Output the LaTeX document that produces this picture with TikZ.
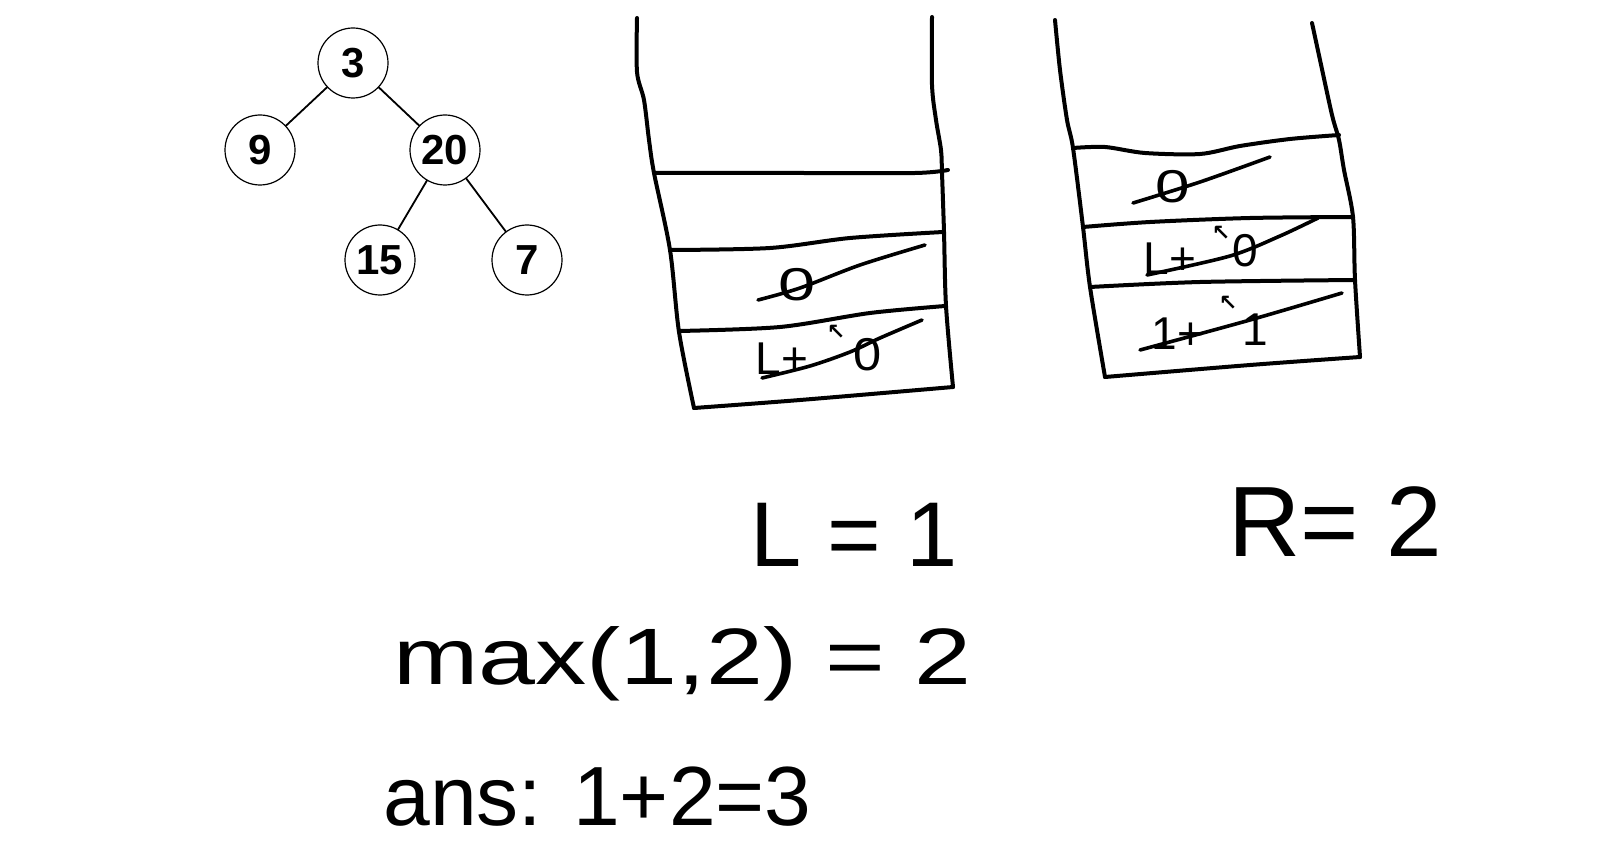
\documentclass[tikz,border=0pt]{standalone}
\usepackage{fontspec}
\setmainfont{Liberation Sans}
\newfontfamily\dejavu{DejaVu Sans}
\begin{document}
\begin{tikzpicture}[x=0.5pt,y=-0.5pt,line cap=round,line join=round]
\useasboundingbox[fill=white] (0,0) rectangle (1600,845);
\tikzset{
  tn/.style={circle,draw,line width=0.6pt,minimum size=35pt,inner sep=0pt,font=\bfseries\fontsize{21}{22}\selectfont},
  treeedge/.style={line width=0.9pt},
  wall/.style={line width=2pt},
  cell/.style={inner sep=0pt,font=\fontsize{23}{24}\selectfont},
  arr/.style={inner sep=0pt,font=\dejavu\bfseries\fontsize{11}{11}\selectfont},
  strike/.style={line width=1.8pt},
  big/.style={inner sep=0pt,anchor=base west,font=\fontsize{46}{48}\selectfont}
}
% tree
\node[tn] (n3) at (353,63) {3};
\node[tn] (n9) at (260,150) {9};
\node[tn] (n20) at (445,150) {20};
\node[tn] (n15) at (380,260) {15};
\node[tn] (n7) at (527,260) {7};
\draw[treeedge] (n3) -- (n9);
\draw[treeedge] (n3) -- (n20);
\draw[treeedge] (n20) -- (n15);
\draw[treeedge] (n20) -- (n7);
% left stack
\draw[wall] plot[smooth] coordinates {(637,18) (637,72) (644,100) (649,140) (654,173) (670,250) (679,332) (694,408)};
\draw[wall] plot[smooth] coordinates {(932,17) (932,85) (936,120) (941,150) (942,173) (944,232) (946,306) (953,387)};
\draw[wall] plot[smooth] coordinates {(654,173) (800,173) (915,173) (948,170)};
\draw[wall] plot[smooth] coordinates {(670,250) (770,248) (850,238) (943,232)};
\draw[wall] plot[smooth] coordinates {(679,331) (780,327) (870,313) (945,306)};
\draw[wall] plot[smooth] coordinates {(694,408) (800,400) (953,387)};
\node[cell] (la) at (797,285) {\scalebox{1.45}[1]{0}};
\draw[strike] plot[smooth] coordinates {(758,300) (800,288) (860,265) (925,245)};
\node[cell] (lb) at (782,359) {L+};
\node[cell] (lc) at (868,355) {\scalebox{1.1}[1]{0}};
\node[arr] (ld) at (836,332) {↖};
\draw[strike] plot[smooth] coordinates {(762,378) (810,366) (850,352) (880,338) (922,320)};
% right stack
\draw[wall] plot[smooth] coordinates {(1055,20) (1060,70) (1067,120) (1073,148) (1083,227) (1090,287) (1105,377)};
\draw[wall] plot[smooth] coordinates {(1312,23) (1320,60) (1332,115) (1339,140) (1344,170) (1353,217) (1355,280) (1360,357)};
\draw[wall] plot[smooth] coordinates {(1073,148) (1105,147) (1145,153) (1200,154) (1240,146) (1290,139) (1339,135)};
\draw[wall] plot[smooth] coordinates {(1083,227) (1150,222) (1250,218) (1353,217)};
\draw[wall] plot[smooth] coordinates {(1090,287) (1200,282) (1355,280)};
\draw[wall] plot[smooth] coordinates {(1105,377) (1250,365) (1360,357)};
\node[cell] (ra) at (1173,187) {\scalebox{1.35}[1]{0}};
\draw[strike] plot[smooth] coordinates {(1133,203) (1200,182) (1270,157)};
\node[cell] (rb) at (1170,259) {L+};
\node[cell] (rc) at (1245,251) {0};
\node[arr] (rd) at (1221,233) {↖};
\draw[strike] plot[smooth] coordinates {(1147,275) (1230,256) (1280,236) (1318,218)};
\node[cell] (re) at (1178,334) {1+};
\node[cell] (rf) at (1255,330) {1};
\node[arr] (rg) at (1228,303) {↖};
\draw[strike] plot[smooth] coordinates {(1140,350) (1250,320) (1342,293)};
% labels
\node[big] (lval) at (750,566) {L = 1};
\node[big,font=\fontsize{50}{52}\selectfont] (rval) at (1228,556) {R= 2};
\node[big,font=\fontsize{40}{42}\selectfont] (mx) at (393,684) {\scalebox{1.28}[1]{max(1,2) = 2}};
\node[big,font=\fontsize{42}{44}\selectfont] (ans) at (383,825) {ans: 1+2=3};
\end{tikzpicture}
\end{document}
